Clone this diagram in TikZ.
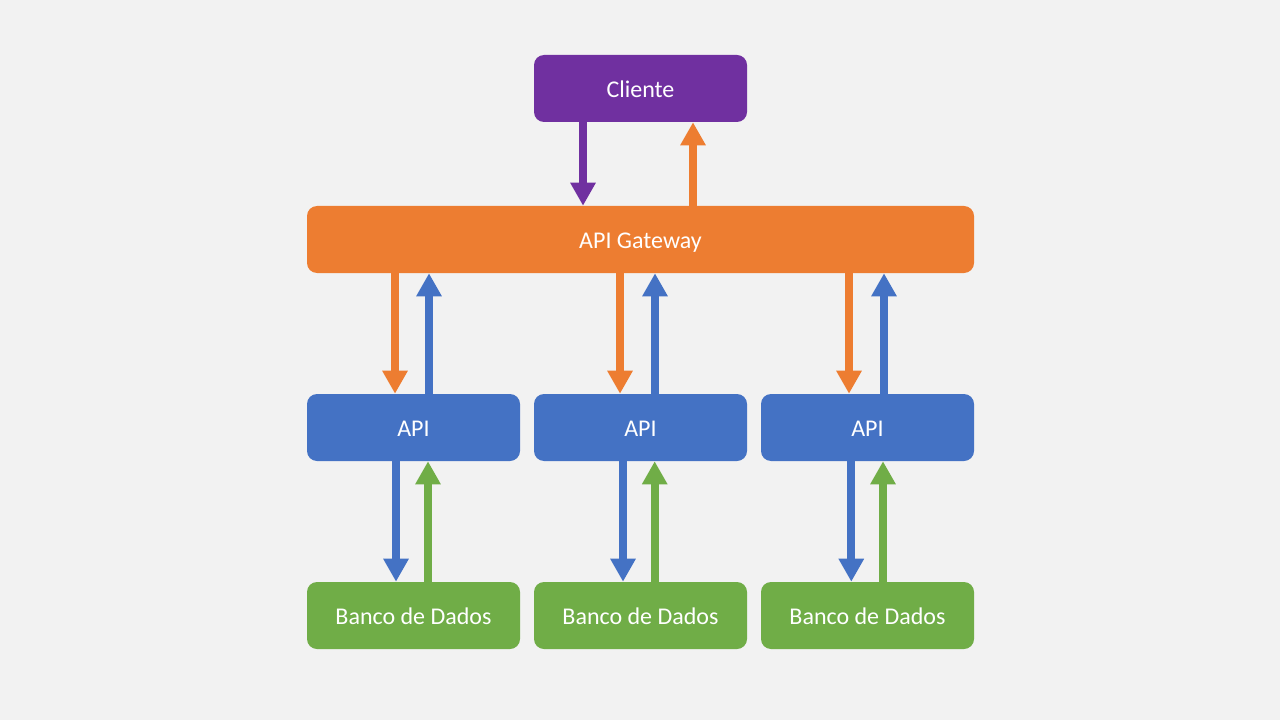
\documentclass[tikz,border=0pt]{standalone}
\usepackage{fontspec}
\setmainfont{Carlito}
\usetikzlibrary{arrows.meta,calc}
\definecolor{bg}{HTML}{F2F2F2}
\definecolor{cpurple}{HTML}{7030A0}
\definecolor{corange}{HTML}{ED7D31}
\definecolor{cblue}{HTML}{4472C4}
\definecolor{cgreen}{HTML}{70AD47}
\tikzset{
  box/.style={rounded corners=7.5pt, inner sep=0pt, text=white,
    font=\fontsize{18}{21}\selectfont, minimum height=67*0.75pt,
    text height=15pt, text depth=2.2pt},
  smallbox/.style={box, minimum width=213*0.75pt},
  flow/.style={line width=8*0.75pt, -{Triangle[width=24*0.75pt,length=23*0.75pt]}},
}
\begin{document}
\begin{tikzpicture}[x=0.75pt,y=-0.75pt]
\fill[bg] (0,0) rectangle (1280,720);
\useasboundingbox (0,0) rectangle (1280,720);

\node[smallbox, fill=cpurple] (cli) at (640.5,88.5) {Cliente};
\node[box, fill=corange, minimum width=667*0.75pt] (gw) at (640.5,239.5) {API Gateway};

\node[smallbox, fill=cblue] (api1) at (413.5,427.5) {API};
\node[smallbox, fill=cblue] (api2) at (640.5,427.5) {API};
\node[smallbox, fill=cblue] (api3) at (867.5,427.5) {API};

\node[smallbox, fill=cgreen] (db1) at (413.5,615.5) {Banco de Dados};
\node[smallbox, fill=cgreen] (db2) at (640.5,615.5) {Banco de Dados};
\node[smallbox, fill=cgreen] (db3) at (867.5,615.5) {Banco de Dados};

% Cliente <-> Gateway
\draw[flow, cpurple] ($(cli.south)+(-57.5,0)$) -- ($(gw.north)+(-57.5,0)$);
\draw[flow, corange] ($(gw.north)+(52.5,0)$) -- ($(cli.south)+(52.5,0)$);

% Gateway <-> APIs
\draw[flow, corange] ($(gw.south -| api1.south)+(-18.5,0)$) -- ($(api1.north)+(-18.5,0)$);
\draw[flow, cblue]   ($(api1.north)+(15.5,0)$) -- ($(gw.south -| api1.south)+(15.5,0)$);
\draw[flow, corange] ($(gw.south -| api2.south)+(-20.5,0)$) -- ($(api2.north)+(-20.5,0)$);
\draw[flow, cblue]   ($(api2.north)+(14.5,0)$) -- ($(gw.south -| api2.south)+(14.5,0)$);
\draw[flow, corange] ($(gw.south -| api3.south)+(-18.5,0)$) -- ($(api3.north)+(-18.5,0)$);
\draw[flow, cblue]   ($(api3.north)+(16.5,0)$) -- ($(gw.south -| api3.south)+(16.5,0)$);

% APIs <-> DBs
\draw[flow, cblue]  ($(api1.south)+(-17.5,0)$) -- ($(db1.north)+(-17.5,0)$);
\draw[flow, cgreen] ($(db1.north)+(14.5,0)$) -- ($(api1.south)+(14.5,0)$);
\draw[flow, cblue]  ($(api2.south)+(-17.5,0)$) -- ($(db2.north)+(-17.5,0)$);
\draw[flow, cgreen] ($(db2.north)+(14.2,0)$) -- ($(api2.south)+(14.2,0)$);
\draw[flow, cblue]  ($(api3.south)+(-16.2,0)$) -- ($(db3.north)+(-16.2,0)$);
\draw[flow, cgreen] ($(db3.north)+(15.5,0)$) -- ($(api3.south)+(15.5,0)$);
\end{tikzpicture}
\end{document}
